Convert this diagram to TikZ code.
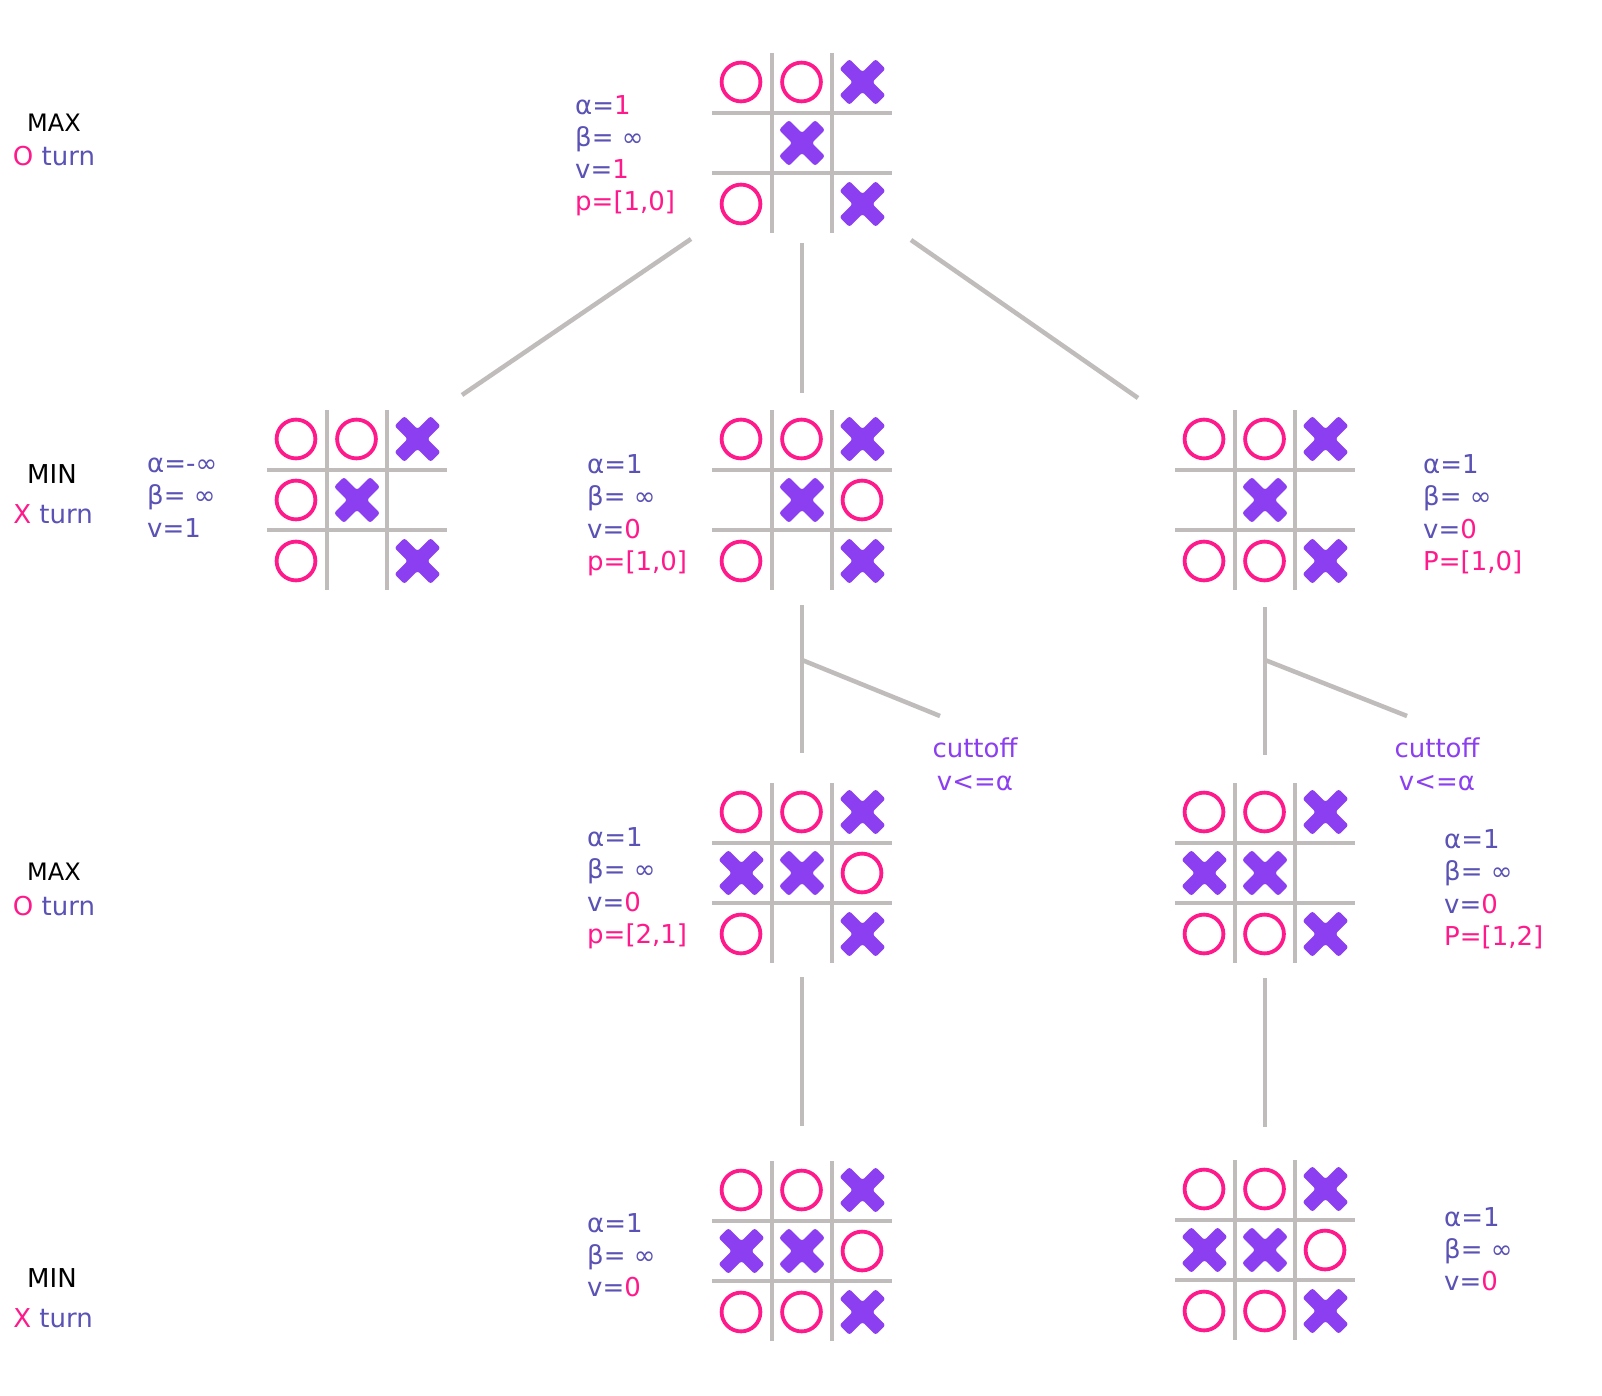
\documentclass[tikz,border=0pt]{standalone}
\usepackage{fontspec}
\setmainfont{DejaVu Sans}
\definecolor{tblue}{HTML}{5A52B4}
\definecolor{tpink}{HTML}{FF1A8C}
\definecolor{xpurple}{HTML}{8C3FF0}
\definecolor{gline}{HTML}{C0BCBC}
\newcommand\lfont{\fontsize{26}{32}\selectfont}
\newcommand\sfont{\fontsize{24}{30}\selectfont}
\tikzset{
  boardnode/.style={minimum width=180pt, minimum height=180pt, inner sep=0pt},
  gridline/.style={draw=gline, line width=4.5pt},
  opiece/.style={draw=tpink, line width=3.8pt},
  xpiece/.style={fill=xpurple, rounded corners=2.5pt},
  conn/.style={draw=gline, line width=4.5pt},
  info/.style={anchor=base west, inner sep=0pt, font=\lfont, text=tblue},
  side/.style={anchor=base, inner sep=0pt, font=\lfont, text=tblue},
  sidehead/.style={anchor=base, inner sep=0pt, font=\sfont, text=black},
  cut/.style={anchor=base, inner sep=0pt, font=\lfont, text=xpurple}
}
\newcommand\tboard[5]{%
\begin{scope}[shift={(#2,#3)}]
  \node[boardnode] (#1) at (90,90) {};
  \draw[gridline] (60,0) -- (60,180) (120,0) -- (120,180) (0,60) -- (180,60) (0,120) -- (180,120);
  \foreach \c/\r in {#4} \draw[opiece] (\c*60.5+29,\r*61+29) circle[radius=19.4];
  \foreach \c/\r in {#5} \fill[xpiece, shift={(\c*60.5+29.5,\r*61+29)}, rotate=45]
     (25.5,-7) -- (25.5,7) -- (7,7) -- (7,25.5) -- (-7,25.5) -- (-7,7) -- (-25.5,7) -- (-25.5,-7)
     -- (-7,-7) -- (-7,-25.5) -- (7,-25.5) -- (7,-7) -- cycle;
\end{scope}}
\begin{document}
\begin{tikzpicture}[x=1pt, y=-1pt]
\useasboundingbox[fill=white] (0,0) rectangle (1602,1396);

% boards
\tboard{b0}{712}{53}{0/0,1/0,0/2}{2/0,1/1,2/2}
\tboard{b1}{267}{410}{0/0,1/0,0/1,0/2}{2/0,1/1,2/2}
\tboard{b2}{712}{410}{0/0,1/0,2/1,0/2}{2/0,1/1,2/2}
\tboard{b3}{1175}{410}{0/0,1/0,0/2,1/2}{2/0,1/1,2/2}
\tboard{b4}{712}{783}{0/0,1/0,2/1,0/2}{2/0,0/1,1/1,2/2}
\tboard{b5}{1175}{783}{0/0,1/0,0/2,1/2}{2/0,0/1,1/1,2/2}
\tboard{b6}{712}{1161}{0/0,1/0,2/1,0/2,1/2}{2/0,0/1,1/1,2/2}
\tboard{b7}{1175}{1160}{0/0,1/0,2/1,0/2,1/2}{2/0,0/1,1/1,2/2}

% connector end points
\coordinate (c1a) at (691,239); \coordinate (c1b) at (462,395);
\coordinate (c2a) at (802,243); \coordinate (c2b) at (802,393);
\coordinate (c3a) at (911,240); \coordinate (c3b) at (1138,398);
\coordinate (c4a) at (802,605); \coordinate (c4b) at (802,753);
\coordinate (c4m) at (802,660); \coordinate (c4e) at (940,716);
\coordinate (c5a) at (1265,607); \coordinate (c5b) at (1265,755);
\coordinate (c5m) at (1265,660); \coordinate (c5e) at (1407,716);
\coordinate (c6a) at (802,977); \coordinate (c6b) at (802,1126);
\coordinate (c7a) at (1265,978); \coordinate (c7b) at (1265,1127);

\draw[conn] (c1a) -- (c1b);
\draw[conn] (c2a) -- (c2b);
\draw[conn] (c3a) -- (c3b);
\draw[conn] (c4a) -- (c4b);
\draw[conn] (c4m) -- (c4e);
\draw[conn] (c5a) -- (c5b);
\draw[conn] (c5m) -- (c5e);
\draw[conn] (c6a) -- (c6b);
\draw[conn] (c7a) -- (c7b);

% cutoff labels
\node[cut] (cut1a) at (975,757) {cuttoff};
\node[cut] (cut1b) at (975,790) {v<=α};
\node[cut] (cut2a) at (1437,757) {cuttoff};
\node[cut] (cut2b) at (1437,790) {v<=α};

% side labels
\node[sidehead] (s1a) at (54,132) {MAX};
\node[side] (s1b) at (54,166) {\textcolor{tpink}{O} turn};
\node[sidehead,font=\lfont] (s2a) at (52,483) {MIN};
\node[side] (s2b) at (53,523) {\textcolor{tpink}{X} turn};
\node[sidehead] (s3a) at (54,880) {MAX};
\node[side] (s3b) at (54,915) {\textcolor{tpink}{O} turn};
\node[sidehead,font=\lfont] (s4a) at (52,1287) {MIN};
\node[side] (s4b) at (53,1327) {\textcolor{tpink}{X} turn};

% info blocks
\node[info] (t0a) at (575,115) {α=\textcolor{tpink}{1}};
\node[info] (t0b) at (575,147) {β= ∞};
\node[info] (t0c) at (575,179) {v=\textcolor{tpink}{1}};
\node[info,text=tpink] (t0d) at (575,211) {p=[1,0]};

\node[info] (t1a) at (147,472) {α=-∞};
\node[info] (t1b) at (147,504.5) {β= ∞};
\node[info] (t1c) at (147,537) {v=1};

\node[info] (t2a) at (587,473) {α=1};
\node[info] (t2b) at (587,505.5) {β= ∞};
\node[info] (t2c) at (587,538) {v=\textcolor{tpink}{0}};
\node[info,text=tpink] (t2d) at (587,570.5) {p=[1,0]};

\node[info] (t3a) at (1423,473) {α=1};
\node[info] (t3b) at (1423,505.5) {β= ∞};
\node[info] (t3c) at (1423,538) {v=\textcolor{tpink}{0}};
\node[info,text=tpink] (t3d) at (1423,570.5) {P=[1,0]};

\node[info] (t4a) at (587,846) {α=1};
\node[info] (t4b) at (587,878.5) {β= ∞};
\node[info] (t4c) at (587,911) {v=\textcolor{tpink}{0}};
\node[info,text=tpink] (t4d) at (587,943.5) {p=[2,1]};

\node[info] (t5a) at (1444,848) {α=1};
\node[info] (t5b) at (1444,880.5) {β= ∞};
\node[info] (t5c) at (1444,913) {v=\textcolor{tpink}{0}};
\node[info,text=tpink] (t5d) at (1444,945.5) {P=[1,2]};

\node[info] (t6a) at (587,1232) {α=1};
\node[info] (t6b) at (587,1264) {β= ∞};
\node[info] (t6c) at (587,1296) {v=\textcolor{tpink}{0}};

\node[info] (t7a) at (1444,1226) {α=1};
\node[info] (t7b) at (1444,1258) {β= ∞};
\node[info] (t7c) at (1444,1290) {v=\textcolor{tpink}{0}};
\end{tikzpicture}
\end{document}
